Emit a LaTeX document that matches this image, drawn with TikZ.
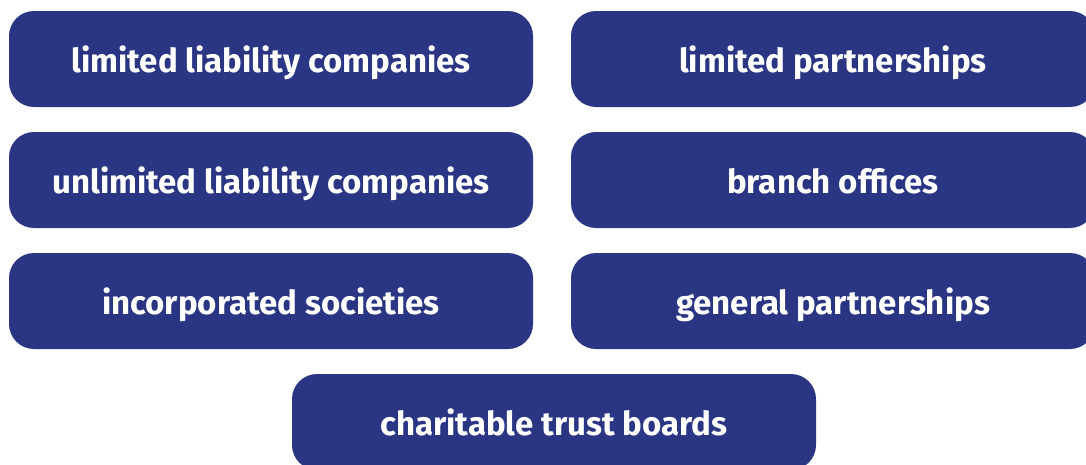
\documentclass[tikz,border=0pt]{standalone}
\usepackage{fontspec}
\setmainfont{Fira Sans}
\usepackage{tikz}
\usetikzlibrary{calc}

\definecolor{boxblue}{RGB}{42,53,132}

\begin{document}
\begin{tikzpicture}[x=1pt, y=-1pt,
        box_style/.style={rectangle, rounded corners=25pt, fill=boxblue, draw=none,
            minimum width=524pt, minimum height=96pt, inner sep=0pt,
            text height=26pt, text depth=0pt,
            text=white, font=\fontsize{33}{36}\selectfont\bfseries}]

        \useasboundingbox (0,0) rectangle (1086,464);
        \clip (0,0) rectangle (1086,464);

        \node [box_style](n1) at (271,59) {limited liability companies};
        \node [box_style](n2) at (833,59) {limited partnerships};
        \node [box_style](n3) at (271,180) {unlimited liability companies};
        \node [box_style](n4) at (833,180) {branch offices};
        \node [box_style](n5) at (271,301) {incorporated societies};
        \node [box_style](n6) at (833,301) {general partnerships};
        \node [box_style](n7) at (554,422) {charitable trust boards};
        \end{tikzpicture}
\end{document}
